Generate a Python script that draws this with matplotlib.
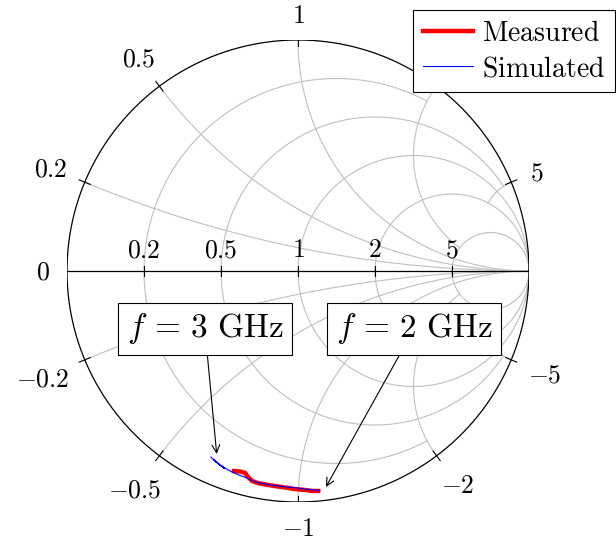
import numpy as np
import matplotlib.pyplot as plt

plt.rcParams['mathtext.fontset'] = 'cm'
plt.rcParams['font.family'] = 'serif'
plt.rcParams['font.serif'] = ['DejaVu Serif']

# resistance circles and reactance arcs of the grid
r_values = [0.2, 0.5, 1, 2, 5]
r_stop = [2, 5, np.inf, np.inf, np.inf]       # |x| where each r circle ends
x_values = [0.2, 0.5, 1, 2, 5]
x_stop = [np.inf, np.inf, np.inf, 5, 2]       # r where each x arc ends
r_labels = ['$0.2$', '$0.5$', '$1$', '$2$', '$5$']
x_ticks = [-5, -2, -1, -0.5, -0.2, 0, 0.2, 0.5, 1, 2, 5]
x_labels = ['$-5$', '$-2$', '$-1$', '$-0.5$', '$-0.2$', '$0$',
            '$0.2$', '$0.5$', '$1$', '$2$', '$5$']

# reflection coefficient
meas_re = [-0.277, -0.251, -0.229, -0.216, -0.199, -0.173, -0.143, -0.100,
           -0.056, -0.013, 0.030, 0.061, 0.087]
meas_im = [-0.866, -0.868, -0.874, -0.892, -0.909, -0.918, -0.924, -0.931,
           -0.937, -0.944, -0.948, -0.952, -0.952]
sim_re = [-0.377, -0.352, -0.366, -0.336, -0.348, -0.318, -0.331, -0.303,
          -0.281, -0.251, -0.221, -0.195, -0.165, -0.121, -0.078, -0.035,
          0.009, 0.052, 0.095]
sim_im = [-0.805, -0.830, -0.815, -0.843, -0.830, -0.856, -0.843, -0.861,
          -0.872, -0.885, -0.896, -0.909, -0.918, -0.926, -0.932, -0.936,
          -0.941, -0.946, -0.950]

# annotations: text position and arrow target (Gamma plane)
notes = ['$f\\,=\\,3\\ \\mathrm{GHz}$', '$f\\,=\\,2\\ \\mathrm{GHz}$']
note_pos = [(-0.403, -0.251), (0.502, -0.251)]
note_target = [(-0.352, -0.792), (0.121, -0.935)]


def gamma(z):
    return (z - 1) / (z + 1)


dpi = 100
R = 231.0  # radius in pixels
fig = plt.figure(figsize=(6.16, 5.43), dpi=dpi)
ax = fig.add_axes([67 / 616, 41 / 543, 462 / 616, 462 / 543])
ax.set_xlim(-1, 1)
ax.set_ylim(-1, 1)
ax.set_aspect('equal')
ax.axis('off')

grid_kw = dict(color='#bfbfbf', lw=0.8, zorder=1)

# r circles
for r, xs in zip(r_values, r_stop):
    a = np.arctan(xs)
    phi = np.linspace(-a, a, 600)
    g = gamma(r + 1j * np.tan(phi))
    ax.plot(g.real, g.imag, **grid_kw)

# x arcs
for x, rs in zip(x_values, x_stop):
    a = np.arctan(rs)
    phi = np.linspace(0, a, 600)
    for s in (1, -1):
        g = gamma(np.tan(phi) + 1j * s * x)
        ax.plot(g.real, g.imag, **grid_kw)

# outer circle and real axis
t = np.linspace(0, 2 * np.pi, 800)
ax.plot(np.cos(t), np.sin(t), color='black', lw=0.9, zorder=3)
ax.plot([-1 - 5 / R, 1], [0, 0], color='black', lw=0.9, zorder=3)

# ticks on the real axis
for r, lbl in zip(r_values, r_labels):
    g = gamma(r)
    ax.plot([g, g], [-5 / R, 5 / R], color='black', lw=0.8, zorder=3)
    ax.annotate(lbl, (g, 0), xytext=(0, 10), textcoords='offset points',
                ha='center', va='baseline', fontsize=18.5)

# ticks and labels on the outer circle
fig.canvas.draw()
renderer = fig.canvas.get_renderer()
glyph_h = 17.0
for xv, lbl in zip(x_ticks, x_labels):
    g = gamma(1j * xv)
    c, s = g.real, g.imag
    if xv != 0:
        ax.plot([c * (1 - 6 / R), c * (1 + 6 / R)],
                [s * (1 - 6 / R), s * (1 + 6 / R)], color='black', lw=0.8, zorder=3)
    txt = ax.annotate(lbl, (c, s), xytext=(0, 0), textcoords='offset points',
                      ha='center', va='baseline', fontsize=18.5)
    bb = txt.get_window_extent(renderer)
    D = 17 + bb.width / 2 * abs(c) + glyph_h / 2 * abs(s) + 3 * abs(c * s)
    txt.xyann = (D * c * 72 / dpi, (D * s - glyph_h / 2) * 72 / dpi)

# data
ax.plot(meas_re, meas_im, color='red', lw=3.2, zorder=4, label='$\\mathrm{Measured}$')
ax.plot(sim_re, sim_im, color='blue', lw=0.8, zorder=5, label='$\\mathrm{Simulated}$')

for txt, pos, tgt in zip(notes, note_pos, note_target):
    ax.annotate(txt, xy=tgt, xytext=pos, ha='center', va='center', fontsize=24,
                bbox=dict(boxstyle='square,pad=0.25', fc='white', ec='black', lw=0.8),
                arrowprops=dict(arrowstyle='->', color='black', lw=0.8,
                                shrinkA=0, shrinkB=0, mutation_scale=14),
                zorder=6)

leg = fig.legend(loc='upper right', bbox_to_anchor=(615 / 616, 1 - 10 / 543),
                 fontsize=20, frameon=True, fancybox=False, framealpha=1,
                 edgecolor='black', borderpad=0.35, handlelength=1.8,
                 handletextpad=0.35, labelspacing=0.3, borderaxespad=0)
leg.get_frame().set_linewidth(0.8)

fig.savefig('out.png', dpi=dpi)
